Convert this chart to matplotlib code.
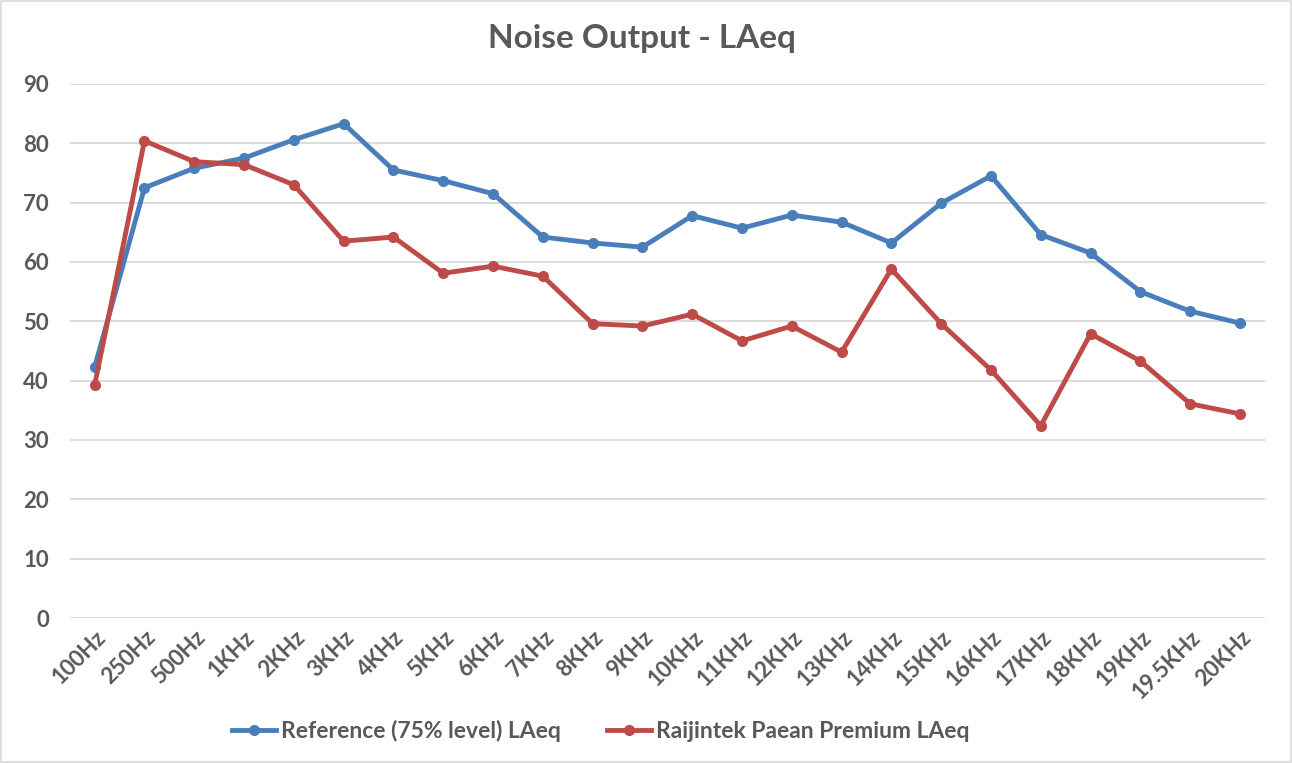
import matplotlib
matplotlib.use('Agg')
import matplotlib.pyplot as plt
from matplotlib.patches import Rectangle

# Frequency bands and measured levels (dB)
categories = ['100Hz', '250Hz', '500Hz', '1KHz', '2KHz', '3KHz', '4KHz', '5KHz',
              '6KHz', '7KHz', '8KHz', '9KHz', '10KHz', '11KHz', '12KHz', '13KHz',
              '14KHz', '15KHz', '16KHz', '17KHz', '18KHz', '19KHz', '19.5KHz', '20KHz']
reference_laeq = [42.3, 72.5, 75.8, 77.5, 80.6, 83.3, 75.5, 73.7, 71.5, 64.2, 63.2, 62.5,
                  67.8, 65.7, 67.9, 66.7, 63.2, 69.9, 74.5, 64.6, 61.5, 55.0, 51.7, 49.7]
raijintek_laeq = [39.3, 80.4, 76.9, 76.4, 73.0, 63.5, 64.2, 58.1, 59.3, 57.6, 49.6, 49.2,
                  51.2, 46.7, 49.2, 44.8, 58.8, 49.6, 41.8, 32.4, 47.9, 43.3, 36.1, 34.4]
series_names = ['Reference (75% level) LAeq', 'Raijintek Paean Premium LAeq']

text_color = '#595959'
plt.rcParams['font.family'] = ['Lato', 'DejaVu Sans']

fig = plt.figure(figsize=(12.92, 7.63), dpi=100)
ax = fig.add_axes([0.054, 0.19, 0.925, 0.70])

x = list(range(len(categories)))
ax.plot(x, reference_laeq, color='#4A7EBB', lw=3.5, marker='o', ms=7,
        label=series_names[0], zorder=3)
ax.plot(x, raijintek_laeq, color='#BE4B48', lw=3.5, marker='o', ms=7,
        label=series_names[1], zorder=3)

ax.set_xlim(-0.5, len(categories) - 0.5)
ax.set_ylim(0, 90)
ax.set_yticks(range(0, 91, 10))
ax.yaxis.grid(True, color='#D9D9D9', lw=1.3)
ax.set_axisbelow(True)
for s in ax.spines.values():
    s.set_visible(False)
ax.tick_params(length=0)
ax.tick_params(axis='y', pad=15)
ax.tick_params(axis='x', pad=6)
ax.set_xticks(x)
ax.set_xticklabels(categories, rotation=45, ha='right', rotation_mode='anchor')
for lbl in ax.get_xticklabels() + ax.get_yticklabels():
    lbl.set_color(text_color)
    lbl.set_fontweight('bold')
    lbl.set_fontsize(16)

fig.suptitle('Noise Output - LAeq', x=0.497, y=0.968, fontsize=24, fontweight='bold',
             color=text_color)

leg = fig.legend(loc='center', bbox_to_anchor=(0.465, 0.042), ncol=2, frameon=False,
                 fontsize=16.5, handlelength=1.9, columnspacing=2.05, handletextpad=0.2)
for t in leg.get_texts():
    t.set_color(text_color)
    t.set_fontweight('bold')

fig.patches.append(Rectangle((0.001, 0.001), 0.998, 0.998, transform=fig.transFigure,
                             fill=False, edgecolor='#D9D9D9', lw=1.2))

fig.savefig('out.png', dpi=100, facecolor='white')
